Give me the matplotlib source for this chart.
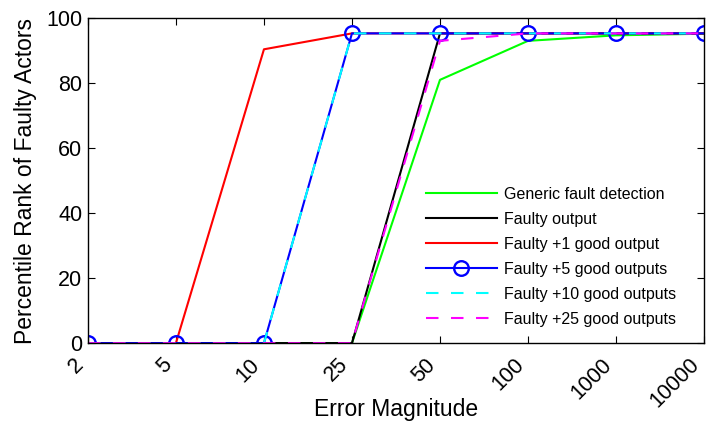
import matplotlib.pyplot as plt

plt.rcParams['font.family'] = ['Liberation Sans', 'DejaVu Sans']

# Error magnitudes (categorical axis)
magnitudes = ["2", "5", "10", "25", "50", "100", "1000", "10000"]

generic = [0, 0, 0, 0, 81, 93, 94.7, 95.2]
faulty = [0, 0, 0, 0, 95.3, 95.3, 95.3, 95.3]
plus1 = [0, 0, 90.4, 95.3, 95.3, 95.3, 95.3, 95.3]
plus5 = [0, 0, 0, 95.3, 95.3, 95.3, 95.3, 95.3]
plus10 = [0, 0, 0, 95.3, 95.3, 95.3, 95.3, 95.3]
plus25 = [0, 0, 0, 0, 93, 95.3, 95.3, 95.3]

x = list(range(len(magnitudes)))

fig = plt.figure(figsize=(7.09, 4.21), dpi=100)
ax = fig.add_axes([0.124, 0.185, 0.869, 0.772])

ax.plot(x, generic, color="#00ff00", lw=1.5, label="Generic fault detection")
ax.plot(x, faulty, color="black", lw=1.5, label="Faulty output")
ax.plot(x, plus1, color="red", lw=1.5, label="Faulty +1 good output")
ax.plot(x, plus5, color="blue", lw=1.5, marker="o", ms=10.5, mfc="none",
        mew=1.7, label="Faulty +5 good outputs")
ax.plot(x, plus10, color="cyan", lw=1.5, ls=(0, (6, 6)), label="Faulty +10 good outputs")
ax.plot(x, plus25, color="magenta", lw=1.5, ls=(0, (6, 6)), label="Faulty +25 good outputs")

ax.set_xlim(0, len(magnitudes) - 1)
ax.set_ylim(0, 100)
ax.set_xticks(x)
ax.set_xticklabels(magnitudes, rotation=45, ha="right", va="top")
ax.set_yticks([0, 20, 40, 60, 80, 100])
ax.tick_params(direction="in", top=True, right=True, labelsize=15.5, length=5)
ax.tick_params(axis="x", pad=8)
ax.tick_params(axis="y", pad=4)
for s in ax.spines.values():
    s.set_linewidth(1.0)

ax.set_xlabel("Error Magnitude", fontsize=16.5)
ax.xaxis.set_label_coords(0.5, -0.17)
ax.set_ylabel("Percentile Rank of Faulty Actors", fontsize=16.5, labelpad=7)

ax.legend(loc="lower right", frameon=False, fontsize=11.5, handlelength=4.4,
          handletextpad=0.45, labelspacing=0.63, borderaxespad=0.4,
          bbox_to_anchor=(0.975, 0.01))

fig.savefig("out.png", dpi=100)
